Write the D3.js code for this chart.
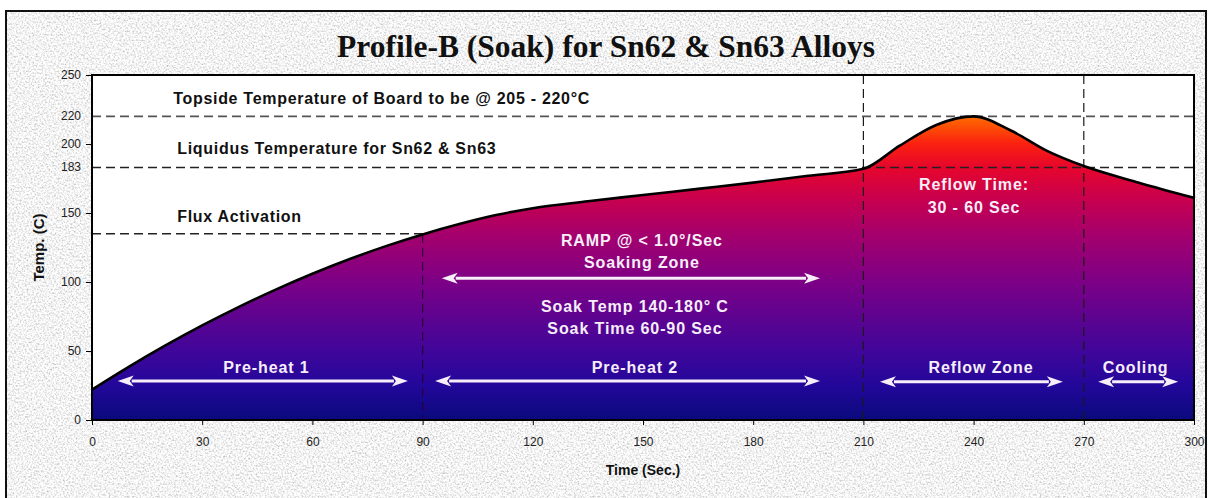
<!DOCTYPE html>
<html><head><meta charset="utf-8">
<script src="https://cdn.jsdelivr.net/npm/d3@7"></script>
<style>html,body{margin:0;padding:0;background:#fff;} svg{display:block;}</style>
</head><body><svg id="chart" width="1209" height="498"></svg>
<script>
// ---- data ----
const times = [0,10,20,30,40,50,60,70,80,90,100,110,120,135,150,165,180,195,210,220,230,240,250,260,270,285,300];
const temps = [22,38.5,54,68.5,82,94.5,106,116.5,126,134.5,142,148.5,153.5,158.5,163,167.5,172,177,182,199,214,220,210,195,184,172,161];
const xTicks = [0,30,60,90,120,150,180,210,240,270,300];
const yTicks = [0,50,100,150,200,250];
const yExtraLabels = [220,183];
const refTemps = [220,183,135];          // topside, liquidus, flux activation
const refEnds = [300,300,90];
const zoneBounds = [90,210,270];
const titleText = "Profile-B (Soak) for Sn62 & Sn63 Alloys";
const xTitle = "Time (Sec.)";
const yTitle = "Temp. (C)";
const refLabels = ["Topside Temperature of Board to be @ 205 - 220°C","Liquidus Temperature for Sn62 & Sn63","Flux Activation"];
const zoneNames = ["Pre-heat 1","Pre-heat 2","Reflow Zone","Cooling"];
const zoneArrows = [[7,86],[93.4,198.2],[214.5,264.3],[273.9,295.7]];
const soakArrow = [95.2,198.2];

// ---- layout ----
const W=1209,H=498;
const M={left:92,right:1194,top:75,bottom:420};
const x=d3.scaleLinear().domain([0,300]).range([M.left,M.right]);
const y=d3.scaleLinear().domain([0,250]).range([M.bottom,M.top]);
const svg=d3.select("#chart");
const defs=svg.append("defs");

// background grain
const f=defs.append("filter").attr("id","grain").attr("x",0).attr("y",0).attr("width","100%").attr("height","100%");
f.append("feTurbulence").attr("type","fractalNoise").attr("baseFrequency","0.55").attr("numOctaves",3).attr("seed",7).attr("result","n");
f.append("feColorMatrix").attr("in","n").attr("type","matrix")
 .attr("values","1.0 0 0 0 0.4  1.0 0 0 0 0.4  1.0 0 0 0 0.4  0 0 0 0 1");

svg.append("rect").attr("width",W).attr("height",H).attr("fill","#fff");
svg.append("rect").attr("x",6).attr("y",11).attr("width",1200).attr("height",H).attr("fill","#e6e6e6").attr("filter","url(#grain)");
svg.append("rect").attr("x",6).attr("y",11).attr("width",1200).attr("height",H+10)
 .attr("fill","none").attr("stroke","#111").attr("stroke-width",2);

// title
svg.append("text").attr("x",606).attr("y",57).attr("text-anchor","middle")
 .attr("font-family","'Liberation Serif','Times New Roman',serif").attr("font-weight","bold")
 .attr("font-size",31.5).attr("fill","#111").text(titleText);

// plot background
svg.append("rect").attr("x",M.left).attr("y",M.top).attr("width",M.right-M.left).attr("height",M.bottom-M.top).attr("fill","#fff");

// gradient
const g=defs.append("linearGradient").attr("id","heat").attr("gradientUnits","userSpaceOnUse")
 .attr("x1",0).attr("x2",0).attr("y1",y(0)).attr("y2",y(220));
[[0,"#0a0a7c"],[25,"#22079a"],[50,"#40069a"],[100,"#7c0086"],[135,"#a6006c"],[160,"#c8004e"],[183,"#e6062c"],[200,"#fb2010"],[220,"#ff6c00"]]
 .forEach(([t,c])=>g.append("stop").attr("offset",(t/220)).attr("stop-color",c));

const pts=times.map((t,i)=>[t,temps[i]]);
const area=d3.area().x(d=>x(d[0])).y0(y(0)).y1(d=>y(d[1])).curve(d3.curveMonotoneX);
const line=d3.line().x(d=>x(d[0])).y(d=>y(d[1])).curve(d3.curveMonotoneX);
svg.append("path").datum(pts).attr("d",area).attr("fill","url(#heat)");

// reference dashed lines
refTemps.forEach((t,i)=>{
  svg.append("line").attr("x1",x(0)).attr("x2",x(refEnds[i])).attr("y1",y(t)).attr("y2",y(t))
   .attr("stroke",i===0?"#555":"#222").attr("stroke-width",1.6).attr("stroke-dasharray","9,5");
});
zoneBounds.forEach(t=>{
  const top = t===90 ? y(135) : y(250);
  svg.append("line").attr("x1",x(t)).attr("x2",x(t)).attr("y1",top).attr("y2",y(0))
   .attr("stroke",t===90?"#2a0038":"#1a1a1a").attr("stroke-width",1.2).attr("stroke-dasharray","9,5");
});

// curve stroke
svg.append("path").datum(pts).attr("d",line).attr("fill","none").attr("stroke","#000").attr("stroke-width",2.6);

// frame
svg.append("rect").attr("x",M.left).attr("y",M.top).attr("width",M.right-M.left).attr("height",M.bottom-M.top)
 .attr("fill","none").attr("stroke","#000").attr("stroke-width",2);

// axes
const sans="'Liberation Sans',Arial,sans-serif";
const ax=svg.append("g").attr("transform",`translate(0,${M.bottom})`)
 .call(d3.axisBottom(x).tickValues(xTicks).tickSize(5).tickPadding(12).tickFormat(d3.format("d")));
ax.select(".domain").remove();
ax.selectAll("text").attr("font-family",sans).attr("font-size",12).attr("fill","#222");
ax.selectAll("line").attr("stroke","#000");
const ay=svg.append("g").attr("transform",`translate(${M.left},0)`)
 .call(d3.axisLeft(y).tickValues(yTicks).tickSize(6).tickPadding(5).tickFormat(d3.format("d")));
ay.select(".domain").remove();
ay.selectAll("text").attr("font-family",sans).attr("font-size",12).attr("fill","#222");
ay.selectAll("line").attr("stroke","#000");
yExtraLabels.forEach(v=>{
  svg.append("text").attr("x",M.left-11).attr("y",y(v)).attr("dy","0.32em").attr("text-anchor","end")
   .attr("font-family",sans).attr("font-size",12).attr("fill","#222").text(v);
});
svg.append("text").attr("x",643).attr("y",475).attr("text-anchor","middle")
 .attr("font-family",sans).attr("font-weight","bold").attr("font-size",14).attr("fill","#111").text(xTitle);
svg.append("text").attr("transform",`translate(44,${(M.top+M.bottom)/2}) rotate(-90)`).attr("text-anchor","middle")
 .attr("font-family",sans).attr("font-weight","bold").attr("font-size",15).attr("fill","#111").text(yTitle);

// reference labels (black)
const refLabelPos=[[22.1,104],[23.2,154],[23.2,222]];
refLabels.forEach((s,i)=>{
  svg.append("text").attr("x",x(refLabelPos[i][0])).attr("y",refLabelPos[i][1])
   .attr("font-family",sans).attr("font-weight","bold").attr("font-size",16).attr("letter-spacing",0.7)
   .attr("fill","#111").text(s);
});

// white annotations
const wc="#f6eef8";
function wtext(tx,py,s){
  svg.append("text").attr("x",x(tx)).attr("y",py).attr("text-anchor","middle")
   .attr("font-family",sans).attr("font-weight","bold").attr("font-size",16).attr("letter-spacing",0.9)
   .attr("fill",wc).text(s);
}
function arrow(a,b,temp){
  const yy=y(temp), x1=x(a), x2=x(b), hl=16, hw=5.5;
  svg.append("line").attr("x1",x1+hl-2).attr("x2",x2-hl+2).attr("y1",yy).attr("y2",yy).attr("stroke",wc).attr("stroke-width",3);
  svg.append("path").attr("d",`M${x1},${yy}L${x1+hl},${yy-hw}L${x1+hl-4},${yy}L${x1+hl},${yy+hw}Z`).attr("fill",wc);
  svg.append("path").attr("d",`M${x2},${yy}L${x2-hl},${yy-hw}L${x2-hl+4},${yy}L${x2-hl},${yy+hw}Z`).attr("fill",wc);
}
const zoneTextX=[47.5,147.8,242,284.1];
const zoneArrowT=[28.3,28.3,27.8,27.8];
zoneNames.forEach((s,i)=>{ wtext(zoneTextX[i],373,s); arrow(zoneArrows[i][0],zoneArrows[i][1],zoneArrowT[i]); });
arrow(soakArrow[0],soakArrow[1],102.7);
wtext(149.7,246,"RAMP @ < 1.0°/Sec");
wtext(149.7,268,"Soaking Zone");
wtext(147.8,312,"Soak Temp 140-180° C");
wtext(147.8,334,"Soak Time 60-90 Sec");
wtext(240.1,190,"Reflow Time:");
wtext(240.1,213,"30 - 60 Sec");
</script></body></html>
